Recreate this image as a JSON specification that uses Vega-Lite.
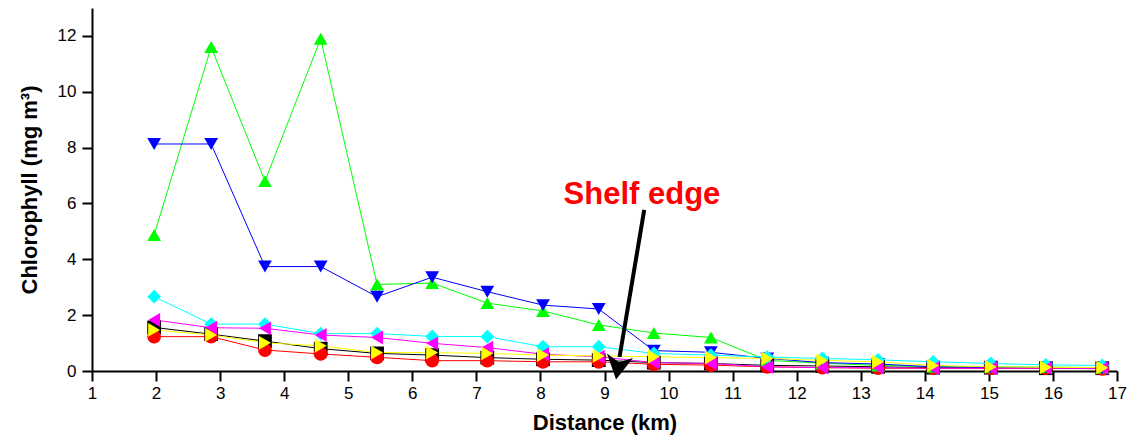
{
  "$schema": "https://vega.github.io/schema/vega-lite/v6.json",
  "width": 1025,
  "height": 363,
  "autosize": {"type": "none"},
  "padding": {"left": 92, "top": 8, "right": 21, "bottom": 74},
  "background": "white",
  "config": {
    "view": {"stroke": null},
    "axis": {
      "grid": false,
      "domainColor": "black",
      "domainWidth": 2,
      "tickColor": "black",
      "tickWidth": 2,
      "labelFont": "Liberation Sans",
      "labelFontSize": 17,
      "labelColor": "black",
      "titleFont": "Liberation Sans",
      "titleFontSize": 22,
      "titleFontWeight": "bold",
      "titleColor": "black"
    }
  },
  "datasets": {
    "chl": [
      {"series": "black", "x": 1.97, "y": 1.56}, {"series": "black", "x": 2.86, "y": 1.32}, {"series": "black", "x": 3.70, "y": 1.07}, {"series": "black", "x": 4.57, "y": 0.8}, {"series": "black", "x": 5.45, "y": 0.63}, {"series": "black", "x": 6.31, "y": 0.57}, {"series": "black", "x": 7.17, "y": 0.48}, {"series": "black", "x": 8.04, "y": 0.42}, {"series": "black", "x": 8.91, "y": 0.39}, {"series": "black", "x": 9.77, "y": 0.3}, {"series": "black", "x": 10.66, "y": 0.27}, {"series": "black", "x": 11.54, "y": 0.2}, {"series": "black", "x": 12.40, "y": 0.18}, {"series": "black", "x": 13.27, "y": 0.15}, {"series": "black", "x": 14.13, "y": 0.12}, {"series": "black", "x": 15.03, "y": 0.12}, {"series": "black", "x": 15.89, "y": 0.1}, {"series": "black", "x": 16.77, "y": 0.1},
      {"series": "red", "x": 1.97, "y": 1.23}, {"series": "red", "x": 2.86, "y": 1.23}, {"series": "red", "x": 3.70, "y": 0.75}, {"series": "red", "x": 4.57, "y": 0.61}, {"series": "red", "x": 5.45, "y": 0.49}, {"series": "red", "x": 6.31, "y": 0.37}, {"series": "red", "x": 7.17, "y": 0.37}, {"series": "red", "x": 8.04, "y": 0.33}, {"series": "red", "x": 8.91, "y": 0.33}, {"series": "red", "x": 9.77, "y": 0.24}, {"series": "red", "x": 10.66, "y": 0.21}, {"series": "red", "x": 11.54, "y": 0.15}, {"series": "red", "x": 12.40, "y": 0.12}, {"series": "red", "x": 13.27, "y": 0.1}, {"series": "red", "x": 14.13, "y": 0.1}, {"series": "red", "x": 15.03, "y": 0.1}, {"series": "red", "x": 15.89, "y": 0.1}, {"series": "red", "x": 16.77, "y": 0.08},
      {"series": "green", "x": 1.97, "y": 4.87}, {"series": "green", "x": 2.86, "y": 11.6}, {"series": "green", "x": 3.70, "y": 6.8}, {"series": "green", "x": 4.57, "y": 11.9}, {"series": "green", "x": 5.45, "y": 3.1}, {"series": "green", "x": 6.31, "y": 3.15}, {"series": "green", "x": 7.17, "y": 2.43}, {"series": "green", "x": 8.04, "y": 2.15}, {"series": "green", "x": 8.91, "y": 1.65}, {"series": "green", "x": 9.77, "y": 1.36}, {"series": "green", "x": 10.66, "y": 1.2}, {"series": "green", "x": 11.54, "y": 0.38}, {"series": "green", "x": 12.40, "y": 0.28}, {"series": "green", "x": 13.27, "y": 0.2}, {"series": "green", "x": 14.13, "y": 0.15}, {"series": "green", "x": 15.03, "y": 0.15}, {"series": "green", "x": 15.89, "y": 0.14}, {"series": "green", "x": 16.77, "y": 0.12},
      {"series": "blue", "x": 1.97, "y": 8.13}, {"series": "blue", "x": 2.86, "y": 8.13}, {"series": "blue", "x": 3.70, "y": 3.74}, {"series": "blue", "x": 4.57, "y": 3.74}, {"series": "blue", "x": 5.45, "y": 2.66}, {"series": "blue", "x": 6.31, "y": 3.36}, {"series": "blue", "x": 7.17, "y": 2.84}, {"series": "blue", "x": 8.04, "y": 2.36}, {"series": "blue", "x": 8.91, "y": 2.22}, {"series": "blue", "x": 9.77, "y": 0.73}, {"series": "blue", "x": 10.66, "y": 0.67}, {"series": "blue", "x": 11.54, "y": 0.45}, {"series": "blue", "x": 12.40, "y": 0.3}, {"series": "blue", "x": 13.27, "y": 0.25}, {"series": "blue", "x": 14.13, "y": 0.15}, {"series": "blue", "x": 15.03, "y": 0.12}, {"series": "blue", "x": 15.89, "y": 0.12}, {"series": "blue", "x": 16.77, "y": 0.1},
      {"series": "cyan", "x": 1.97, "y": 2.66}, {"series": "cyan", "x": 2.86, "y": 1.68}, {"series": "cyan", "x": 3.70, "y": 1.68}, {"series": "cyan", "x": 4.57, "y": 1.34}, {"series": "cyan", "x": 5.45, "y": 1.34}, {"series": "cyan", "x": 6.31, "y": 1.24}, {"series": "cyan", "x": 7.17, "y": 1.23}, {"series": "cyan", "x": 8.04, "y": 0.87}, {"series": "cyan", "x": 8.91, "y": 0.87}, {"series": "cyan", "x": 9.77, "y": 0.63}, {"series": "cyan", "x": 10.66, "y": 0.57}, {"series": "cyan", "x": 11.54, "y": 0.5}, {"series": "cyan", "x": 12.40, "y": 0.45}, {"series": "cyan", "x": 13.27, "y": 0.4}, {"series": "cyan", "x": 14.13, "y": 0.33}, {"series": "cyan", "x": 15.03, "y": 0.27}, {"series": "cyan", "x": 15.89, "y": 0.22}, {"series": "cyan", "x": 16.77, "y": 0.2},
      {"series": "magenta", "x": 1.97, "y": 1.83}, {"series": "magenta", "x": 2.86, "y": 1.55}, {"series": "magenta", "x": 3.70, "y": 1.53}, {"series": "magenta", "x": 4.57, "y": 1.29}, {"series": "magenta", "x": 5.45, "y": 1.2}, {"series": "magenta", "x": 6.31, "y": 0.99}, {"series": "magenta", "x": 7.17, "y": 0.84}, {"series": "magenta", "x": 8.04, "y": 0.6}, {"series": "magenta", "x": 8.91, "y": 0.51}, {"series": "magenta", "x": 9.77, "y": 0.3}, {"series": "magenta", "x": 10.66, "y": 0.27}, {"series": "magenta", "x": 11.54, "y": 0.15}, {"series": "magenta", "x": 12.40, "y": 0.12}, {"series": "magenta", "x": 13.27, "y": 0.12}, {"series": "magenta", "x": 14.13, "y": 0.1}, {"series": "magenta", "x": 15.03, "y": 0.1}, {"series": "magenta", "x": 15.89, "y": 0.1}, {"series": "magenta", "x": 16.77, "y": 0.1},
      {"series": "yellow", "x": 1.97, "y": 1.47}, {"series": "yellow", "x": 2.86, "y": 1.29}, {"series": "yellow", "x": 3.70, "y": 1.01}, {"series": "yellow", "x": 4.57, "y": 0.9}, {"series": "yellow", "x": 5.45, "y": 0.66}, {"series": "yellow", "x": 6.31, "y": 0.66}, {"series": "yellow", "x": 7.17, "y": 0.63}, {"series": "yellow", "x": 8.04, "y": 0.57}, {"series": "yellow", "x": 8.91, "y": 0.54}, {"series": "yellow", "x": 9.77, "y": 0.51}, {"series": "yellow", "x": 10.66, "y": 0.48}, {"series": "yellow", "x": 11.54, "y": 0.45}, {"series": "yellow", "x": 12.40, "y": 0.38}, {"series": "yellow", "x": 13.27, "y": 0.33}, {"series": "yellow", "x": 14.13, "y": 0.2}, {"series": "yellow", "x": 15.03, "y": 0.15}, {"series": "yellow", "x": 15.89, "y": 0.13}, {"series": "yellow", "x": 16.77, "y": 0.12}
    ]
  },
  "layer": [
    {
      "data": {"name": "chl"},
      "mark": {"type": "line", "strokeWidth": 1},
      "encoding": {
        "x": {"field": "x", "type": "quantitative", "scale": {"domain": [1, 17], "nice": false, "zero": false},
              "axis": {"title": "Distance (km)",
                       "values": [1,1.5,2,2.5,3,3.5,4,4.5,5,5.5,6,6.5,7,7.5,8,8.5,9,9.5,10,10.5,11,11.5,12,12.5,13,13.5,14,14.5,15,15.5,16,16.5,17],
                       "labelExpr": "datum.value % 1 === 0 ? format(datum.value, 'd') : ''",
                       "tickSize": {"condition": {"test": "datum.value % 1 === 0", "value": 10}, "value": 6},
                       "labelFontSize": 17,
                       "labelPadding": 4, "titlePadding": 11, "labelFlush": false, "labelOverlap": false}},
        "y": {"field": "y", "type": "quantitative", "scale": {"domain": [0, 13], "nice": false},
              "axis": {"title": "Chlorophyll (mg m³)",
                       "values": [0,1,2,3,4,5,6,7,8,9,10,11,12,13],
                       "labelExpr": "datum.value % 2 === 0 ? format(datum.value, 'd') : ''",
                       "tickSize": {"condition": {"test": "datum.value % 2 === 0", "value": 10}, "value": 6},
                       "labelFontSize": 17,
                       "labelPadding": 6, "titlePadding": 16, "labelFlush": false, "labelOverlap": false}},
        "color": {"field": "series", "type": "nominal", "legend": null,
                  "scale": {"domain": ["black","red","green","blue","cyan","magenta","yellow"], "range": ["#000000","#ff0000","#00ff00","#0000ff","#00ffff","#ff00ff","#ffff00"]}},
        "order": {"field": "x", "type": "quantitative"}
      }
    },
    {
      "data": {"name": "chl"},
      "mark": {"type": "point", "filled": true, "opacity": 1, "size": 190},
      "encoding": {
        "x": {"field": "x", "type": "quantitative"},
        "y": {"field": "y", "type": "quantitative"},
        "color": {"field": "series", "type": "nominal", "legend": null},
        "shape": {"field": "series", "type": "nominal", "legend": null,
                  "scale": {"domain": ["black","red","green","blue","cyan","magenta","yellow"], "range": ["square","circle","triangle-up","triangle-down","diamond","triangle-left","triangle-right"]}}
      }
    },
    {
      "data": {"values": [{"x": 9.62, "y": 5.77, "x2": 9.235, "y2": 0.5}]},
      "mark": {"type": "rule", "strokeWidth": 4, "color": "black"},
      "encoding": {
        "x": {"field": "x", "type": "quantitative"},
        "y": {"field": "y", "type": "quantitative"},
        "x2": {"field": "x2"},
        "y2": {"field": "y2"}
      }
    },
    {
      "data": {"values": [{"x": 9.18, "y": -0.3}]},
      "mark": {"type": "point", "filled": true, "opacity": 1, "color": "black", "size": 2304, "angle": 9.5,
               "shape": "M0,0L-0.55,-1L0,-0.72L0.55,-1Z"},
      "encoding": {
        "x": {"field": "x", "type": "quantitative"},
        "y": {"field": "y", "type": "quantitative"}
      }
    },
    {
      "data": {"values": [{"x": 9.585, "y": 6.3, "label": "Shelf edge"}]},
      "mark": {"type": "text", "font": "Liberation Sans", "fontSize": 31, "fontWeight": "bold", "color": "#ff0000", "align": "center", "baseline": "middle"},
      "encoding": {
        "x": {"field": "x", "type": "quantitative"},
        "y": {"field": "y", "type": "quantitative"},
        "text": {"field": "label"}
      }
    }
  ]
}
